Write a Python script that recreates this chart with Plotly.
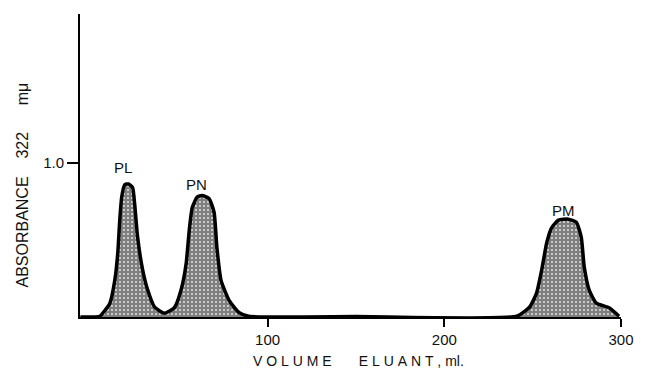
import plotly.graph_objects as go

# Elution profile (volume in ml, absorbance at 322 mμ)
volume_ml = [-6, 0, 5, 10.7, 13.5, 15.2, 16.3, 17.4, 19.1, 21.3, 23.6, 24.7, 26.4, 29.2, 32.0, 36.0, 41.6,
             47.2, 51.1, 53.9, 55.6, 57.3, 60.1, 62.9, 66.9, 69.7, 71.3, 73.6, 78.1, 83.7, 89.3,
             150, 241, 248.3, 252.2, 255.1, 257.9, 260.7, 264.6, 270.2, 274.7, 277.5, 279.2, 282.0,
             286.0, 293.3, 298.9]
absorbance = [0, 0, 0.005, 0.09, 0.24, 0.42, 0.63, 0.78, 0.86, 0.865, 0.84, 0.74, 0.52, 0.31, 0.18, 0.065, 0.025,
              0.06, 0.18, 0.35, 0.56, 0.71, 0.78, 0.79, 0.77, 0.68, 0.45, 0.24, 0.11, 0.03, 0.005,
              0.003, 0.005, 0.065, 0.155, 0.305, 0.48, 0.58, 0.63, 0.636, 0.617, 0.52, 0.325, 0.175,
              0.09, 0.06, 0.005]

peak_names = ["PL", "PN", "PM"]
peak_x = [18, 59.5, 267.5]
peak_label_y = [0.975, 0.86, 0.69]

x_ticks = [100, 200, 300]
y_ticks = [1.0]
y_tick_text = ["1.0"]

font_family = "Liberation Sans, Arial, sans-serif"
NB = "\u00a0"

x_title = NB.join("VOLUME") + NB * 7 + NB.join("ELUANT,") + NB + "ml."
y_title = "ABSORBANCE" + NB * 4 + "322" + NB * 6 + "mμ"

fig = go.Figure()
fig.add_trace(go.Scatter(
    x=volume_ml, y=absorbance, mode="lines",
    line=dict(color="black", width=3.5, shape="spline", smoothing=0.5),
    fill="tozeroy",
    fillcolor="white",
    fillpattern=dict(shape="+", fgcolor="black", bgcolor="white", size=4, solidity=0.85),
    hoverinfo="skip", showlegend=False,
))

for name, px, py in zip(peak_names, peak_x, peak_label_y):
    fig.add_annotation(x=px, y=py, text=name, showarrow=False,
                       font=dict(family=font_family, size=15, color="#111"))

fig.add_annotation(xref="paper", yref="paper", x=0.514, y=-0.145, text=x_title,
                   showarrow=False, xanchor="center", yanchor="middle",
                   font=dict(family=font_family, size=14, color="#111"))
fig.add_annotation(xref="paper", yref="paper", x=-0.106, y=0.436, text=y_title,
                   textangle=-90, showarrow=False, xanchor="center", yanchor="middle",
                   font=dict(family=font_family, size=16, color="#111"))

fig.update_layout(
    width=646, height=370,
    margin=dict(l=80, r=21, t=14, b=53),
    paper_bgcolor="white", plot_bgcolor="white",
    xaxis=dict(range=[-6.2, 300], tickvals=x_ticks, ticks="outside", ticklen=8, tickwidth=2,
               tickcolor="black", showline=True, linecolor="black", linewidth=2,
               showgrid=False, zeroline=False,
               tickfont=dict(family=font_family, size=15, color="#111")),
    yaxis=dict(range=[0, 1.97], tickvals=y_ticks, ticktext=y_tick_text, ticks="outside", ticklen=11,
               tickwidth=2, tickcolor="black", showline=True, linecolor="black", linewidth=2,
               showgrid=False, zeroline=False,
               tickfont=dict(family=font_family, size=15, color="#111")),
)

fig.write_html("out.html", config={"displayModeBar": False},
               post_script="document.body.style.margin='0';document.body.style.overflow='hidden';")
